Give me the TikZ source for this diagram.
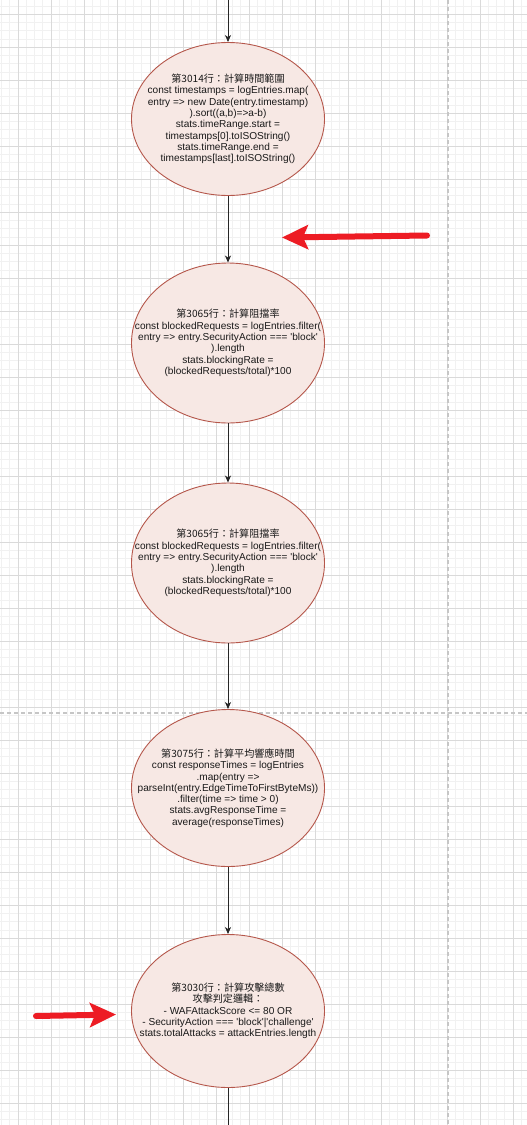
\documentclass[tikz,border=0pt]{standalone}
\usepackage{fontspec}
\setmainfont{Liberation Sans}
\newfontfamily\cjk{Noto Sans CJK TC}
\usetikzlibrary{arrows.meta,shapes.geometric}
\definecolor{gridminor}{HTML}{F1F1F1}
\definecolor{gridmajor}{HTML}{DADADA}
\definecolor{pagebrk}{HTML}{C6C6C6}
\definecolor{efill}{HTML}{F7E8E4}
\definecolor{estroke}{HTML}{B5574B}
\definecolor{redarrow}{HTML}{ED1C24}
\definecolor{flowcol}{HTML}{262626}
\newcommand{\sq}{\textquotesingle}
\begin{document}
\begin{tikzpicture}[x=1pt,y=-1pt,
  codeshape/.style={ellipse, draw=estroke, fill=efill, line width=0.9pt, inner sep=0pt,
    minimum width=193pt},
  codetext/.style={inner sep=0pt, align=center, font=\fontsize{10.1}{11.3}\selectfont, text=black!90},
  flow/.style={draw=flowcol, line width=0.8pt, -{Stealth[length=7pt,width=6pt,inset=2pt]}},
  flowplain/.style={draw=flowcol, line width=0.8pt},
  callout/.style={draw=redarrow, line width=6pt, line cap=round,
    -{Stealth[length=26pt,width=24pt,inset=5pt]}},
  minorline/.style={draw=gridminor, line width=0.8pt},
  majorline/.style={draw=gridmajor, line width=0.8pt},
  pagebreak/.style={draw=pagebrk, line width=1.2pt, dash pattern=on 4pt off 3pt}]
\useasboundingbox (0,0) rectangle (527,1125);
\fill[white] (0,0) rectangle (527,1125);
\begin{scope}
\clip (0,0) rectangle (527,1125);
\foreach \i in {0,...,63} \draw[minorline] ({1.5+8.25*\i},0) -- ({1.5+8.25*\i},1125);
\foreach \i in {0,...,136} \draw[minorline] (0,{6.05+8.25*\i}) -- (527,{6.05+8.25*\i});
\foreach \i in {0,...,15} \draw[majorline] ({18+33*\i},0) -- ({18+33*\i},1125);
\foreach \i in {0,...,33} \draw[majorline] (0,{14.3+33*\i}) -- (527,{14.3+33*\i});
\draw[pagebreak] (448,0) -- (448,1125);
\draw[pagebreak] (0,713) -- (527,713);
\end{scope}

\node[codeshape, minimum height=153pt] (e1) at (228,119) {};
\node[codetext] (t1) at (e1.center)
  {{\cjk 第3014行：計算時間範圍}\\const timestamps = logEntries.map(\\entry => new Date(entry.timestamp)\\).sort((a,b)=>a-b)\\stats.timeRange.start =\\timestamps[0].toISOString()\\stats.timeRange.end =\\timestamps[last].toISOString()};
\node[codeshape, minimum height=160pt] (e2) at (228,343) {};
\node[codetext] (t2) at (e2.center)
  {{\cjk 第3065行：計算阻擋率}\\const blockedRequests = logEntries.filter(\\entry => entry.SecurityAction === \sq block\sq\\).length\\stats.blockingRate =\\(blockedRequests/total)*100};
\node[codeshape, minimum height=160pt] (e3) at (228,563) {};
\node[codetext] (t3) at (e3.center)
  {{\cjk 第3065行：計算阻擋率}\\const blockedRequests = logEntries.filter(\\entry => entry.SecurityAction === \sq block\sq\\).length\\stats.blockingRate =\\(blockedRequests/total)*100};
\node[codeshape, minimum height=157pt] (e4) at (228,788) {};
\node[codetext] (t4) at (e4.center)
  {{\cjk 第3075行：計算平均響應時間}\\const responseTimes = logEntries\\.map(entry =>\\parseInt(entry.EdgeTimeToFirstByteMs))\\.filter(time => time > 0)\\stats.avgResponseTime =\\average(responseTimes)};
\node[codeshape, minimum height=153pt] (e5) at (228,1011) {};
\node[codetext] (t5) at (e5.center)
  {{\cjk 第3030行：計算攻擊總數}\\{\cjk 攻擊判定邏輯：}\\- WAFAttackScore <= 80 OR\\- SecurityAction === \sq block\sq|\sq challenge\sq\\stats.totalAttacks = attackEntries.length};

\coordinate (top) at (228,0);
\coordinate (bot) at (228,1125);
\draw[flow] (top) -- (e1);
\draw[flow] (e1) -- (e2);
\draw[flow] (e2) -- (e3);
\draw[flow] (e3) -- (e4);
\draw[flow] (e4) -- (e5);
\draw[flowplain] (e5) -- (bot);

\coordinate (r1s) at (427,235.5);
\coordinate (r1e) at (282,237.5);
\coordinate (r2s) at (36,1016);
\coordinate (r2e) at (116,1014.5);
\draw[callout] (r1s) -- (r1e);
\draw[callout] (r2s) -- (r2e);
\end{tikzpicture}
\end{document}
